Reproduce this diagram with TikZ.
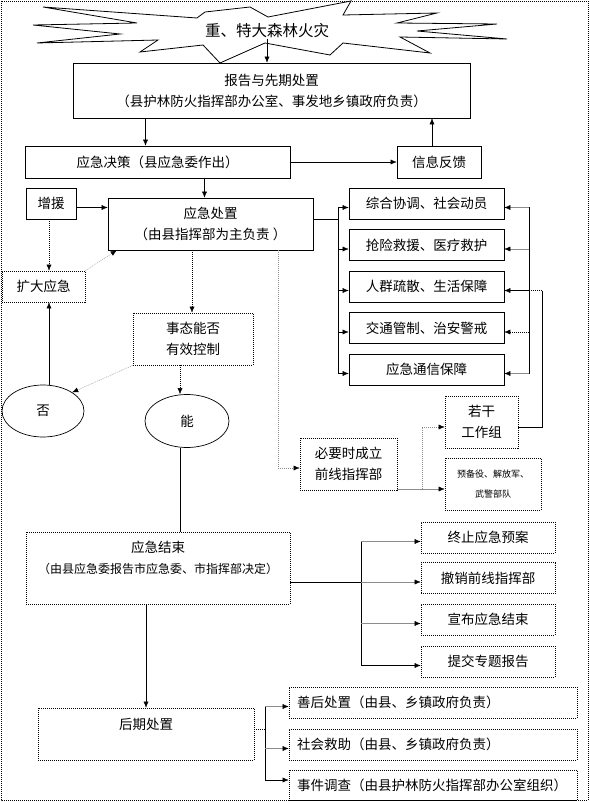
\documentclass[tikz,border=0pt]{standalone}
\usepackage{fontspec}
\setmainfont{Noto Sans CJK SC}
\usetikzlibrary{arrows.meta,shapes.geometric}

\begin{document}
\begin{tikzpicture}[
		x=1pt, y=-1pt,
		every node/.style={inner sep=1pt, font=\fontsize{13.5}{21}\selectfont, align=center},
		box/.style={draw, line width=0.7pt},
		dbox/.style={draw, line width=0.7pt, dash pattern=on 1pt off 1pt},
		oval/.style={draw, ellipse, line width=0.7pt},
		wide/.style={dbox, inner xsep=8pt, text width=272pt, align=left, minimum height=31pt},
		dotline/.style={dash pattern=on 1pt off 1pt},
		arr/.style={-{Latex[length=6pt,width=5pt]}},
		greyarr/.style={draw=black!45, -{Latex[length=6pt,width=5pt,color=black]}},
		]
		\useasboundingbox (0,0) rectangle (589,802);
		\draw[dotline, line width=0.6pt] (1,1) rectangle (588,800);

		\draw[line width=0.8pt] (351,1) -- (343,15) -- (437,13) -- (397,23) -- (497,24) -- (417,31)
			-- (507,39) -- (400,37) -- (430,53) -- (343,43) -- (330,55) -- (265,43) -- (220,63)
			-- (203,45) -- (140,52) -- (158,40) -- (37,43) -- (120,34) -- (33,25) -- (137,23)
			-- (43,7) -- (197,18) -- (205,12) -- (250,7) -- (268,17) -- cycle;
		\node[font=\fontsize{15.5}{21}\selectfont] (fire) at (267,31) {重、特大森林火灾};

		\node[box, minimum width=397pt, minimum height=55pt] (rep) at (271.5,90.5) {报告与先期处置\\（县护林防火指挥部办公室、事发地乡镇政府负责）};
		\node[box, minimum width=265pt, minimum height=32pt] (dec) at (157.5,162) {应急决策（县应急委作出）};
		\node[box, minimum width=84pt, minimum height=32pt] (fb) at (439,162) {信息反馈};
		\node[box, minimum width=50pt, minimum height=31pt] (zy) at (51,203.5) {增援};
		\node[box, minimum width=205pt, minimum height=52pt] (cz) at (210.5,224) {应急处置\\（由县指挥部为主负责 ）};
		\node[dbox, minimum width=83pt, minimum height=31pt] (kd) at (43.5,286.5) {扩大应急};
		\node[dbox, minimum width=120pt, minimum height=52pt] (st) at (193,339) {事态能否\\有效控制};
		\node[oval, minimum width=82pt, minimum height=52pt] (fou) at (43,411) {否};
		\node[oval, minimum width=84pt, minimum height=53pt] (neng) at (187,421) {能};

		\node[box, minimum width=155pt, minimum height=31pt] (r1) at (426.5,203.5) {综合协调、社会动员};
		\node[box, minimum width=155pt, minimum height=31pt] (r2) at (426.5,245) {抢险救援、医疗救护};
		\node[box, minimum width=155pt, minimum height=31pt] (r3) at (426.5,286.5) {人群疏散、生活保障};
		\node[box, minimum width=155pt, minimum height=31pt] (r4) at (426.5,328) {交通管制、治安警戒};
		\node[box, minimum width=155pt, minimum height=31pt] (r5) at (426.5,369.5) {应急通信保障};

		\node[dbox, minimum width=97pt, minimum height=52pt] (qx) at (348.5,464) {必要时成立\\前线指挥部};
		\node[dbox, minimum width=73pt, minimum height=52pt] (rg) at (481.5,422) {若干\\工作组};
		\node[dbox, minimum width=96pt, minimum height=52pt, font=\fontsize{9}{20}\selectfont] (yb) at (493,484) {预备役、解放军、\\武警部队};

		\node[dbox, minimum width=264pt, minimum height=72pt] (js) at (158,568) {应急结束\\{\fontsize{12}{21}\selectfont（由县应急委报告市应急委、市指挥部决定）}\\\mbox{}};
		\node[dbox, minimum width=134pt, minimum height=31pt] (j1) at (488,537.5) {终止应急预案};
		\node[dbox, minimum width=134pt, minimum height=31pt] (j2) at (488,578) {撤销前线指挥部};
		\node[dbox, minimum width=134pt, minimum height=31pt] (j3) at (488,619.5) {宣布应急结束};
		\node[dbox, minimum width=134pt, minimum height=31pt] (j4) at (488,661.5) {提交专题报告};

		\node[dbox, minimum width=216pt, minimum height=52pt] (hq) at (146,734) {后期处置\\\mbox{}};
		\node[wide] (h1) at (433,702.5) {善后处置（由县、乡镇政府负责）};
		\node[wide] (h2) at (433,744.5) {社会救助（由县、乡镇政府负责）};
		\node[wide, minimum height=30pt] (h3) at (433,785) {事件调查（由县护林防火指挥部办公室组织）};

		\coordinate (busA) at (338,0);
		\coordinate (busB) at (529,0);
		\coordinate (busC) at (542,0);
		\coordinate (qxv) at (278,0);
		\coordinate (sp) at (422,0);
		\coordinate (busD) at (361,0);
		\coordinate (busE) at (265,0);

		\draw[arr] (fire.south) -- (fire.south |- rep.north);
		\draw[arr] ([xshift=-12pt]dec.north |- rep.south) -- ([xshift=-12pt]dec.north);
		\draw[arr] (dec.east) -- (fb.west);
		\draw[arr] ([xshift=-7pt]fb.north) -- ([xshift=-7pt]fb.north |- rep.south);
		\draw[arr] ([xshift=-6pt]cz.north |- dec.south) -- ([xshift=-6pt]cz.north);
		\draw[arr] ([yshift=-4pt]zy.east) -- ([yshift=-4pt]zy.east -| cz.west);
		\draw[arr, dotline] ([xshift=-2pt]zy.south) -- ([xshift=-2pt]zy.south |- kd.north);
		\draw[greyarr, dotline] (kd.north east) -- ([xshift=9pt]cz.south west);
		\draw[arr, dotline] ([xshift=-1pt]st.north |- cz.south) -- ([xshift=-1pt]st.north);
		\draw[greyarr, dotline] (st.south west) -- (fou.north east);
		\draw[arr, dotline] ([xshift=-7pt]neng.north |- st.south) -- ([xshift=-7pt]neng.north);
		\draw[arr] ([xshift=6pt]fou.north) -- ([xshift=6pt]fou.north |- kd.south);
		\draw ([xshift=-7pt]neng.south) -- ([xshift=-7pt]neng.south |- js.north);

		\draw ([yshift=5pt]cz.east) -- ([yshift=5pt]cz.east -| busA);
		\draw ([yshift=-4pt]r1.west -| busA) -- ([yshift=-4pt]r5.west -| busA);
		\draw[arr] ([yshift=-4pt]r1.west -| busA) -- ([yshift=-4pt]r1.west);
		\draw[arr] ([yshift=-4pt]r2.west -| busA) -- ([yshift=-4pt]r2.west);
		\draw[arr] ([yshift=-4pt]r3.west -| busA) -- ([yshift=-4pt]r3.west);
		\draw[arr] ([yshift=-4pt]r4.west -| busA) -- ([yshift=-4pt]r4.west);
		\draw[arr] ([yshift=-4pt]r5.west -| busA) -- ([yshift=-4pt]r5.west);

		\draw ([yshift=-4pt]r1.east -| busB) -- ([yshift=-4pt]r5.east -| busB);
		\draw[greyarr] ([yshift=-4pt]r1.east -| busB) -- ([yshift=-4pt]r1.east);
		\draw[greyarr] ([yshift=-4pt]r2.east -| busB) -- ([yshift=-4pt]r2.east);
		\draw[arr] ([yshift=-4pt]r3.east -| busB) -- ([yshift=-4pt]r3.east);
		\draw[arr, dotline] ([yshift=-4pt]r4.east -| busB) -- ([yshift=-4pt]r4.east);
		\draw[greyarr] ([yshift=-4pt]r5.east -| busB) -- ([yshift=-4pt]r5.east);
		\draw ([yshift=-5pt]rg.east) -| ([yshift=-4pt]r3.east -| busC);
		\draw[dotline] ([yshift=-4pt]r3.east -| busC) -- ([yshift=-4pt]r3.east -| busB);

		\draw[greyarr, dotline] (cz.south -| qxv) |- ([yshift=-4pt]qx.west);
		\draw[greyarr] ([yshift=-5pt]yb.west -| qx.east) -- ([yshift=-5pt]yb.west);
		\draw[greyarr, dotline] ([yshift=-5pt]yb.west -| sp) |- ([yshift=-5pt]rg.west);

		\draw ([yshift=-4pt]j2.west -| js.east) -- ([yshift=-4pt]j2.west -| busD);
		\draw ([yshift=-4pt]j1.west -| busD) -- ([yshift=-4pt]j4.west -| busD);
		\draw[greyarr] ([yshift=-4pt]j1.west -| busD) -- ([yshift=-4pt]j1.west);
		\draw[greyarr] ([yshift=-4pt]j2.west -| busD) -- ([yshift=-4pt]j2.west);
		\draw[greyarr] ([yshift=-4pt]j3.west -| busD) -- ([yshift=-4pt]j3.west);
		\draw[arr] ([yshift=-4pt]j4.west -| busD) -- ([yshift=-4pt]j4.west);

		\draw[arr] (hq.north |- js.south) -- (hq.north);
		\draw[dotline] ([yshift=5pt]hq.east) -- ([yshift=5pt]hq.east -| busE);
		\draw ([yshift=-4pt]h1.west -| busE) -- ([yshift=5pt]h3.west -| busE);
		\draw[greyarr] ([yshift=-4pt]h1.west -| busE) -- ([yshift=-4pt]h1.west);
		\draw[greyarr] ([yshift=-4pt]h2.west -| busE) -- ([yshift=-4pt]h2.west);
		\draw[arr] ([yshift=5pt]h3.west -| busE) -- ([yshift=5pt]h3.west);
	\end{tikzpicture}
\end{document}
